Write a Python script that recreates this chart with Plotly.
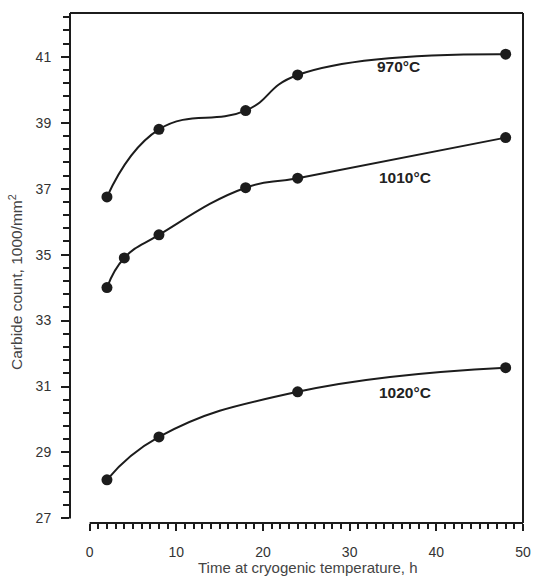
import plotly.graph_objects as go

# Data
t_970 = [2, 8, 18, 24, 48]
c_970 = [36.75, 38.8, 39.37, 40.45, 41.08]

t_1010 = [2, 4, 8, 18, 24, 48]
c_1010 = [34.0, 34.9, 35.6, 37.03, 37.32, 38.55]

t_1020 = [2, 8, 24, 48]
c_1020 = [28.17, 29.47, 30.84, 31.57]

series_names = ["970°C", "1010°C", "1020°C"]
label_x = [35.6, 36.4, 36.4]
label_y = [40.72, 37.33, 30.82]

y_major = [27, 29, 31, 33, 35, 37, 39, 41]
x_major = [0, 10, 20, 30, 40, 50]

ink = "#1c1c1c"
fig = go.Figure()
for xs, ys, nm in [(t_970, c_970, series_names[0]),
                   (t_1010, c_1010, series_names[1]),
                   (t_1020, c_1020, series_names[2])]:
    fig.add_trace(go.Scatter(
        x=xs, y=ys, name=nm, mode="lines+markers",
        line=dict(color=ink, width=2, shape="spline", smoothing=1.3),
        marker=dict(color=ink, size=11),
        showlegend=False))

for nm, lx, ly in zip(series_names, label_x, label_y):
    fig.add_annotation(x=lx, y=ly, text="<b>" + nm + "</b>", showarrow=False,
                       font=dict(family="Liberation Sans, Arial", size=15.5, color="#222"),
                       xanchor="center", yanchor="middle")

x_minor = list(range(0, 51))

fig.update_layout(
    width=538, height=577,
    margin=dict(l=70, r=7, t=13, b=54),
    paper_bgcolor="white", plot_bgcolor="white",
    font=dict(family="Liberation Sans, Arial", size=14, color="#333"),
    xaxis=dict(range=[-2.264, 50], showgrid=False, zeroline=False, showline=False,
               tickmode="array", tickvals=x_major, ticks="outside", ticklen=7,
               tickwidth=1.5, tickcolor=ink, ticklabelstandoff=9,
               ticklabeloverflow="allow",
               tickfont=dict(size=14, color="#333"),
               minor=dict(tickmode="array", tickvals=x_minor, ticks="outside",
                          ticklen=5, tickwidth=1.5, tickcolor=ink, showgrid=False)),
    yaxis=dict(range=[26.86, 42.33], showgrid=False, zeroline=False, showline=False,
               tickmode="array", tickvals=y_major, ticks="outside", ticklen=8,
               tickwidth=1.5, tickcolor=ink, ticklabelstandoff=7,
               tickfont=dict(size=14, color="#333"),
               minor=dict(tickmode="linear", tick0=27, dtick=0.4, ticks="outside",
                          ticklen=6, tickwidth=1.5, tickcolor=ink, showgrid=False)),
)

# frame lines (offset axes like the reference)
fig.add_shape(type="line", xref="paper", yref="y", x0=0, x1=0, y0=27, y1=42.33,
              line=dict(color=ink, width=2))
fig.add_shape(type="line", xref="paper", yref="paper", x0=0, x1=1, y0=1, y1=1,
              line=dict(color=ink, width=2))
fig.add_shape(type="line", xref="paper", yref="paper", x0=1, x1=1, y0=0, y1=1,
              line=dict(color=ink, width=2))
fig.add_shape(type="line", xref="x", yref="paper", x0=0, x1=50, y0=0, y1=0,
              line=dict(color=ink, width=2))

fig.add_annotation(xref="paper", yref="paper", x=(312 - 70) / 461, y=-(567 - 523) / 510,
                   text="Time at cryogenic temperature, h", showarrow=False,
                   font=dict(size=15, color="#444"), xanchor="center", yanchor="middle")
fig.add_annotation(xref="paper", yref="paper", x=-55 / 461, y=(523 - 282) / 510,
                   text="Carbide count, 1000/mm<sup>2</sup>", showarrow=False, textangle=-90,
                   font=dict(size=15.5, color="#444"), xanchor="center", yanchor="middle")

fig.write_html("out.html")
